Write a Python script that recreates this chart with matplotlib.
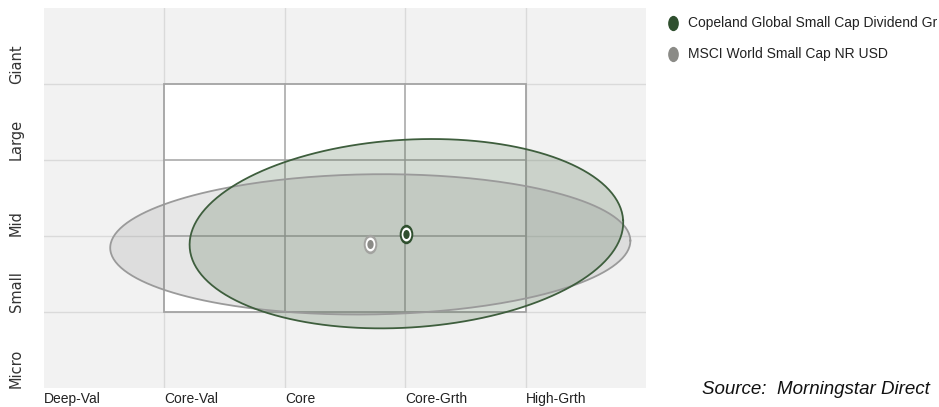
import numpy as np
import matplotlib
matplotlib.use('Agg')
import matplotlib.pyplot as plt
from matplotlib.path import Path
from matplotlib.lines import Line2D
from matplotlib.patches import Rectangle

# style box categories
styles_x = ['Deep-Val', 'Core-Val', 'Core', 'Core-Grth', 'High-Grth']
sizes_y = ['Micro', 'Small', 'Mid', 'Large', 'Giant']

# ownership zones: centroid and the two semi-axis vectors (data units)
funds = ['Copeland Global Small Cap Dividend Gr', 'MSCI World Small Cap NR USD']
centroid_x = [3.01, 2.71]
centroid_y = [2.03, 1.89]
axis1_x = [1.80, 2.16]
axis1_y = [0.18, 0.05]
axis2_x = [-0.05, -0.01]
axis2_y = [1.23, 0.92]

edge_cols = ['#3e5e3d', '#9a9a9a']
fill_cols = ['#5c785a', '#7f7f7f']
fill_alpha = [0.26, 0.18]
dot_cols = ['#2f4f2e', '#8b8b87']

narrow = ['Liberation Sans', 'DejaVu Sans']

fig = plt.figure(figsize=(9.39, 4.07), dpi=100)
ax = fig.add_axes([44 / 939, 1 - 388.3 / 407, 602 / 939, 380.8 / 407])
ax.set_facecolor('#f2f2f2')
ax.set_xlim(0, 5)
ax.set_ylim(0, 5)
for s in ax.spines.values():
    s.set_visible(False)

# light grid over the whole area
for v in range(1, 5):
    ax.axvline(v, color='#dadada', lw=1.0, zorder=1)
    ax.axhline(v, color='#dadada', lw=1.0, zorder=1)

# white 3x3 style box with darker grid
ax.add_patch(Rectangle((1, 1), 3, 3, facecolor='white', edgecolor='#a3a3a3', lw=1.3, zorder=2))
for v in [2, 3]:
    ax.plot([v, v], [1, 4], color='#a3a3a3', lw=1.1, zorder=2)
    ax.plot([1, 4], [v, v], color='#a3a3a3', lw=1.1, zorder=2)

# zones, benchmark drawn first
t = np.linspace(0, 2 * np.pi, 300)
for i in [1, 0]:
    xs = centroid_x[i] + axis1_x[i] * np.cos(t) + axis2_x[i] * np.sin(t)
    ys = centroid_y[i] + axis1_y[i] * np.cos(t) + axis2_y[i] * np.sin(t)
    ax.fill(xs, ys, color=fill_cols[i], alpha=fill_alpha[i], lw=0, zorder=3)
    ax.plot(xs, ys, color=edge_cols[i], lw=1.3, zorder=4)

# oval centroid markers (picture is squashed horizontally)
circ = Path.unit_circle()
oval = Path(circ.vertices * np.array([0.7, 1.0]), circ.codes)
ring_cols = ['#2f4f2e', '#a3a3a0']
for i in [1, 0]:
    ax.plot(centroid_x[i], centroid_y[i], marker=oval, ms=14, color=ring_cols[i], mew=0, zorder=5)
    ax.plot(centroid_x[i], centroid_y[i], marker=oval, ms=10, color='white', mew=0, zorder=6)
    ax.plot(centroid_x[i], centroid_y[i], marker=oval, ms=6.5, color=dot_cols[i], mew=0, zorder=7)

# axis labels
ax.set_xticks(range(5))
ax.set_xticklabels(styles_x, ha='left', family=narrow, fontsize=10, color='#222222')
ax.set_yticks(range(5))
ax.set_yticklabels(sizes_y, rotation=90, va='bottom', ha='center', fontsize=10.5, color='#333333')
ax.tick_params(axis='x', length=0, pad=3)
ax.tick_params(axis='y', length=0, pad=20)

# legend
leg_y = [1 - 23 / 407, 1 - 54 / 407]
for i in range(2):
    fig.add_artist(Line2D([673 / 939], [leg_y[i]], marker=oval, ms=11, color=dot_cols[i],
                          mew=0, transform=fig.transFigure))
    fig.text(688 / 939, leg_y[i], funds[i], ha='left', va='center', family=narrow,
             fontsize=10, color='#222222')

fig.text(930 / 939, 1 - 394 / 407, 'Source:  Morningstar Direct', ha='right', va='baseline',
         style='italic', family=['Liberation Sans', 'DejaVu Sans'], fontsize=13.5, color='#111111')

fig.savefig('out.png', dpi=100)
